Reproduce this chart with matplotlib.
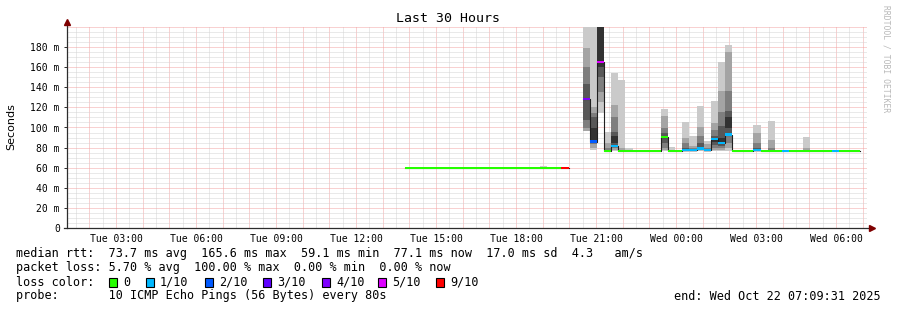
import numpy as np
import matplotlib.pyplot as plt
from matplotlib.patches import Rectangle

# time axis in hours counted from Tue 00:00; window is the last 30 hours
T_START = 1 + 9 / 60 + 31 / 3600
T_END = T_START + 30
BIN_H = 16 / 60           # one consolidated column = 16 minutes
FIRST_BIN = 13 + 50 / 60  # first column with data (Tue 13:50)

x_ticks = [3, 6, 9, 12, 15, 18, 21, 24, 27, 30]
x_labels = ["Tue 03:00", "Tue 06:00", "Tue 09:00", "Tue 12:00", "Tue 15:00",
            "Tue 18:00", "Tue 21:00", "Wed 00:00", "Wed 03:00", "Wed 06:00"]
y_ticks = [0, 20, 40, 60, 80, 100, 120, 140, 160, 180]
y_labels = ["0", "20 m", "40 m", "60 m", "80 m", "100 m",
            "120 m", "140 m", "160 m", "180 m"]

nan = float("nan")

# median rtt per column (ms)
median_ms = [59.5] * 22 + [59.5, nan, nan,
             128, 86, 165, 77, 81.6, 77, 77, 77, 77, 77, 77,
             90.5, 77, 77, 77.6, 77.5, 79, 77.5, 88.5, 84.8, 93,
             77, 77, 77, 77.5, 77, 77, 77, 77, 77, 77, 77, 77, 77, 77,
             77, 77, 77, 77]
# lost pings (out of 10) per column
loss = [0] * 22 + [9, 0, 0,
        4, 2, 5, 0, 1, 0, 0, 0, 0, 0, 0,
        0, 0, 0, 1, 1, 1, 1, 1, 1, 1,
        0, 0, 0, 1, 0, 0, 0, 1, 0, 0, 0, 0, 0, 0,
        1, 0, 0, 0]

# sorted pings of the columns that show smoke
smoke_bins = [19, 25, 26, 27, 28, 29, 30, 31, 36, 37, 39, 40, 41, 42,
              43, 44, 45, 49, 51, 56]
smoke_pings = [
    [59, 59.5, 59.5, 59.5, 59.5, 59.5, 59.5, 60, 60.5, 62],
    [97, 97, 100, 107, 128, 128, 143, 160, 179, 205],
    [78, 80, 84, 86, 88, 100, 110, 114, 120, 205],
    [114, 125, 135, 150, 160, 200, 205, 210, 215, 220],
    [76, 77, 77, 77, 77, 77, 78, 80, 85, 96],
    [77, 78, 80, 82, 85, 92, 96, 110, 122, 154],
    [76.5, 77, 77, 77, 77, 77, 77.5, 78, 80, 147],
    [76.5, 77, 77, 77, 77, 77, 77, 77.5, 78, 80],
    [77, 78, 80, 85, 90, 91, 95, 100, 111, 118],
    [76.5, 77, 77, 77, 77, 77, 77, 77.5, 78, 81],
    [76, 77, 77, 77.5, 77.6, 78, 80, 85, 90, 105],
    [76, 77, 77, 77.5, 77.5, 78, 79, 80, 82, 92],
    [77, 78, 78.5, 79, 79, 80, 85, 92, 100, 121],
    [76, 77, 77, 77.5, 77.5, 78, 79, 80, 84, 87],
    [77, 78, 80, 83, 86, 88.5, 92, 98, 104, 126],
    [77, 78, 80, 82, 84.8, 90, 101, 115, 136, 165],
    [77, 80, 85, 93, 100, 110, 116, 136, 175, 182],
    [76, 77, 77, 77.5, 77.5, 78, 80, 85, 95, 102.5],
    [76, 77, 77, 77, 77, 77.5, 78, 80, 88, 106],
    [76, 77, 77, 77, 77, 77, 77.5, 78, 80, 91],
]

loss_levels = [0, 1, 2, 3, 4, 5, 9]
loss_names = ["0", "1/10", "2/10", "3/10", "4/10", "5/10", "9/10"]
loss_colors = ["#26ff00", "#00b8ff", "#0059ff", "#5e00ff",
               "#7e00ff", "#dd00ff", "#ff0000"]

MONO = "DejaVu Sans Mono"
W, H = 897, 310

fig = plt.figure(figsize=(W / 100, H / 100), dpi=100)
ax = fig.add_axes([67 / W, (H - 228) / H, 800 / W, 201 / H])
ax.set_xlim(T_START, T_END)
ax.set_ylim(0, 200)

# grid: gray every 30 min / 5 ms, red every hour / 20 ms
dot = (0, (1, 1))
for h in np.arange(np.ceil(T_START * 2) / 2, T_END, 0.5):
    col = "#f2a4a4" if float(h).is_integer() else "#d4d4d4"
    ax.axvline(h, color=col, lw=0.72, ls=dot, zorder=0)
for v in range(5, 201, 5):
    col = "#f2a4a4" if v % 20 == 0 else "#d4d4d4"
    ax.axhline(v, color=col, lw=0.72, ls=dot, zorder=0)

starts = FIRST_BIN + BIN_H * np.arange(len(median_ms))

# smoke: nested bands, darker towards the median
for b, pings in zip(smoke_bins, smoke_pings):
    p = sorted(pings)
    for k in range(5):
        lo, hi = p[k], p[9 - k]
        if hi <= lo:
            continue
        shade = int(190 / 5 * (5 - (k + 1))) + 50
        ax.bar(starts[b], hi - lo, bottom=lo, width=BIN_H, align="edge",
               color="#%02x%02x%02x" % (shade, shade, shade), lw=0, zorder=2)

# thin dark median step line
med = np.array(median_ms)
ax.step(np.append(starts, starts[-1] + BIN_H), np.append(med, med[-1]),
        where="post", color="#202020", lw=0.8, zorder=3)

# coloured median bars by loss
color_of = dict(zip(loss_levels, loss_colors))
ok = ~np.isnan(med)
ax.bar(starts[ok], 2.2, bottom=med[ok] - 1.1, width=BIN_H, align="edge",
       color=[color_of[l] for l, o in zip(loss, ok) if o], lw=0, zorder=4)

# axes
for s in ["top", "right", "left", "bottom"]:
    ax.spines[s].set_visible(False)
axis_col = "#2c2c2c"
ax.plot([0, 0], [0, 1.015], transform=ax.transAxes, color=axis_col, lw=0.9,
        clip_on=False, zorder=5)
ax.plot([-0.004, 1.003], [0, 0], transform=ax.transAxes, color=axis_col,
        lw=0.9, clip_on=False, zorder=5)
ax.plot([0], [1.025], marker="^", color="#7f0000", markersize=4,
        transform=ax.transAxes, clip_on=False, zorder=6)
ax.plot([1.006], [0], marker=">", color="#7f0000", markersize=4,
        transform=ax.transAxes, clip_on=False, zorder=6)

ax.set_xticks(x_ticks)
ax.set_xticklabels(x_labels, fontsize=7, family=MONO)
ax.set_yticks(y_ticks)
ax.set_yticklabels(y_labels, fontsize=7, family=MONO)
ax.tick_params(axis="x", length=0, pad=4)
ax.tick_params(axis="y", length=2.2, width=0.7, color=axis_col, pad=3)

fig.text(448 / W, 1 - 19 / H, "Last 30 Hours", ha="center", va="center",
         fontsize=9.5, family=MONO)
fig.text(11 / W, 1 - 127 / H, "Seconds", rotation=90, ha="center",
         va="center", fontsize=8)
fig.text(886 / W, 1 - 5 / H, "RRDTOOL / TOBI OETIKER", rotation=-90,
         ha="center", va="top", fontsize=5.8, family=MONO, color="#b8b8b8")

# legend lines
leg = dict(fontsize=8.5, family=MONO, va="center", ha="left")
fig.text(16 / W, 1 - 254 / H,
         "median rtt:  73.7 ms avg  165.6 ms max  59.1 ms min  77.1 ms now"
         "  17.0 ms sd  4.3   am/s", **leg)
fig.text(16 / W, 1 - 268 / H,
         "packet loss: 5.70 % avg  100.00 % max  0.00 % min  0.00 % now",
         **leg)
fig.text(16 / W, 1 - 282 / H, "loss color:", **leg)
box_x = [109, 146, 205, 263, 322, 378, 436]
for bx, name, col in zip(box_x, loss_names, loss_colors):
    fig.add_artist(Rectangle((bx / W, 1 - 286.5 / H), 8 / W, 9 / H,
                             transform=fig.transFigure, facecolor=col,
                             edgecolor="black", lw=0.8))
    fig.text((bx + 14) / W, 1 - 282 / H, name, **leg)
fig.text(16 / W, 1 - 296 / H,
         "probe:       10 ICMP Echo Pings (56 Bytes) every 80s", **leg)
fig.text(881 / W, 1 - 296 / H, "end: Wed Oct 22 07:09:31 2025",
         fontsize=8.5, family=MONO, va="center", ha="right")

fig.savefig("out.png", dpi=100)
